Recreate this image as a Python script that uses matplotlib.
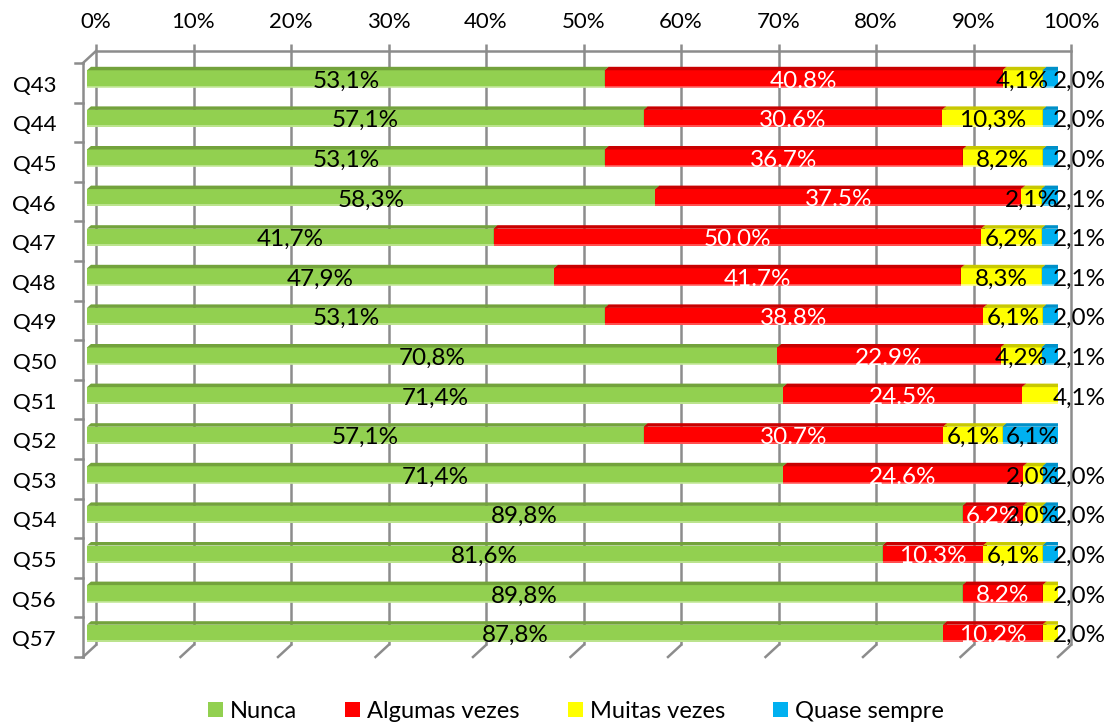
import matplotlib
matplotlib.use("Agg")
import matplotlib.pyplot as plt
from matplotlib.patches import Polygon, Patch

categories = ["Q43", "Q44", "Q45", "Q46", "Q47", "Q48", "Q49", "Q50",
              "Q51", "Q52", "Q53", "Q54", "Q55", "Q56", "Q57"]
nunca = [53.1, 57.1, 53.1, 58.3, 41.7, 47.9, 53.1, 70.8, 71.4, 57.1, 71.4, 89.8, 81.6, 89.8, 87.8]
algumas = [40.8, 30.6, 36.7, 37.5, 50.0, 41.7, 38.8, 22.9, 24.5, 30.7, 24.6, 6.2, 10.3, 8.2, 10.2]
muitas = [4.1, 10.3, 8.2, 2.1, 6.2, 8.3, 6.1, 4.2, 4.1, 6.1, 2.0, 2.0, 6.1, 2.0, 2.0]
quase = [2.0, 2.0, 2.0, 2.1, 2.1, 2.1, 2.0, 2.1, 0.0, 6.1, 2.0, 2.0, 2.0, 0.0, 0.0]
series_names = ["Nunca", "Algumas vezes", "Muitas vezes", "Quase sempre"]
xticks = [0, 10, 20, 30, 40, 50, 60, 70, 80, 90, 100]
xtick_labels = ["0%", "10%", "20%", "30%", "40%", "50%", "60%", "70%", "80%", "90%", "100%"]

series = [nunca, algumas, muitas, quase]
front_cols = ["#92D050", "#FF0000", "#FFFF00", "#00B0F0"]
top_cols = ["#73A23C", "#C80000", "#C8C800", "#0090C8"]
side_cols = ["#6A9636", "#B00000", "#B4B400", "#0080B4"]
edge_cols = ["#C4E89A", "#FF6060", "#FFFF90", "#70D4F8"]
label_cols = ["black", "white", "black", "black"]
decimal_sep = [",", ".", ",", ","]

plt.rcParams['font.family'] = ['Lato', 'DejaVu Sans']
FS = 16
FS_LAB = 17.5
FS_LEG = 17

W, H = 1112, 725
fig = plt.figure(figsize=(W / 100, H / 100), dpi=100)
L, R, T, B = 83, 1058, 63, 657
ax = fig.add_axes([L / W, 1 - B / H, (R - L) / W, (B - T) / H])
n = len(categories)
ax.set_xlim(0, 100)
ax.set_ylim(n - 0.5, -0.5)
ax.axis('off')

pxx = (R - L) / 100.0
pxy = (B - T) / n
DX, DY = 13 / pxx, 12 / pxy          # back wall offset
grid_c = "#8C8C8C"
glw = 1.8

def px2dx(p):
    return p / pxx

def px2dy(p):
    return p / pxy

# back wall gridlines with tick extensions
tick_ext = px2dy(7)
for v in xticks:
    ax.plot([v + DX, v + DX], [n - 0.5 - DY, -0.5 - DY - tick_ext], color=grid_c, lw=glw,
            clip_on=False, solid_capstyle='butt', zorder=1)
    ax.plot([v, v + DX], [n - 0.5, n - 0.5 - DY], color=grid_c, lw=glw, clip_on=False, zorder=1)
ax.plot([DX, 100 + DX], [-0.5 - DY, -0.5 - DY], color=grid_c, lw=glw, clip_on=False, zorder=1)
ax.plot([0, 0], [-0.5, n - 0.5], color=grid_c, lw=glw, clip_on=False, zorder=1)
ax.plot([0, DX], [-0.5, -0.5 - DY], color=grid_c, lw=glw, clip_on=False, zorder=1)
for k in range(n + 1):
    ax.plot([-px2dx(8), 0], [k - 0.5, k - 0.5], color=grid_c, lw=glw, clip_on=False, zorder=1)

# top tick labels
for v, t in zip(xticks, xtick_labels):
    ax.text(v + DX, -0.5 - DY - px2dy(29), t, ha='center', va='center', fontsize=FS,
            clip_on=False)

# category labels
for i, c in enumerate(categories):
    ax.text(-px2dx(27), i + px2dy(9), c, ha='right', va='baseline', fontsize=FS, clip_on=False)

# bars
bx, by = px2dx(4), px2dy(4)
bh = px2dy(17)
ddx, ddy = px2dx(4), px2dy(3.5)
for i in range(n):
    left = 0.0
    vals = [s[i] for s in series]
    last_nz = max(j for j, v in enumerate(vals) if v > 0)
    yc = i - by
    yt, yb = yc - bh / 2, yc + bh / 2
    for j, v in enumerate(vals):
        x0 = left + bx
        x1 = left + v + bx
        front = Polygon([(x0, yb), (x1, yb), (x1, yt), (x0, yt)], closed=True,
                        facecolor=front_cols[j], edgecolor='none', zorder=3)
        ax.add_patch(front)
        ax.plot([x0, x1], [yb - px2dy(0.6), yb - px2dy(0.6)], color=edge_cols[j], lw=1.2, zorder=3.1,
                solid_capstyle='butt')
        top = Polygon([(x0, yt), (x1, yt), (x1 + ddx, yt - ddy), (x0 + ddx, yt - ddy)], closed=True,
                      facecolor=top_cols[j], edgecolor='none', zorder=3)
        ax.add_patch(top)
        side = Polygon([(x1, yb), (x1, yt), (x1 + ddx, yt - ddy), (x1 + ddx, yb - ddy)], closed=True,
                       facecolor=side_cols[j], edgecolor='none', zorder=3)
        ax.add_patch(side)
        if v > 0:
            txt = f"{v:.1f}".replace(".", decimal_sep[j]) + "%"
            if j == last_nz and v < 5:
                xl = 102.2
            else:
                xl = left + v / 2 + bx
            ax.text(xl, i + px2dy(4.8), txt, ha='center', va='baseline', fontsize=FS_LAB,
                    color=label_cols[j], zorder=5, clip_on=False)
        left += v

handles = [Patch(facecolor=c, edgecolor='none') for c in front_cols]
fig.legend(handles, series_names, loc='center', bbox_to_anchor=(576 / W, 1 - 711 / H),
           ncol=4, frameon=False, fontsize=FS_LEG, handlelength=0.62, handleheight=0.62,
           handletextpad=0.3, columnspacing=2.05, borderaxespad=0, borderpad=0)

fig.savefig("out.png", dpi=100)
